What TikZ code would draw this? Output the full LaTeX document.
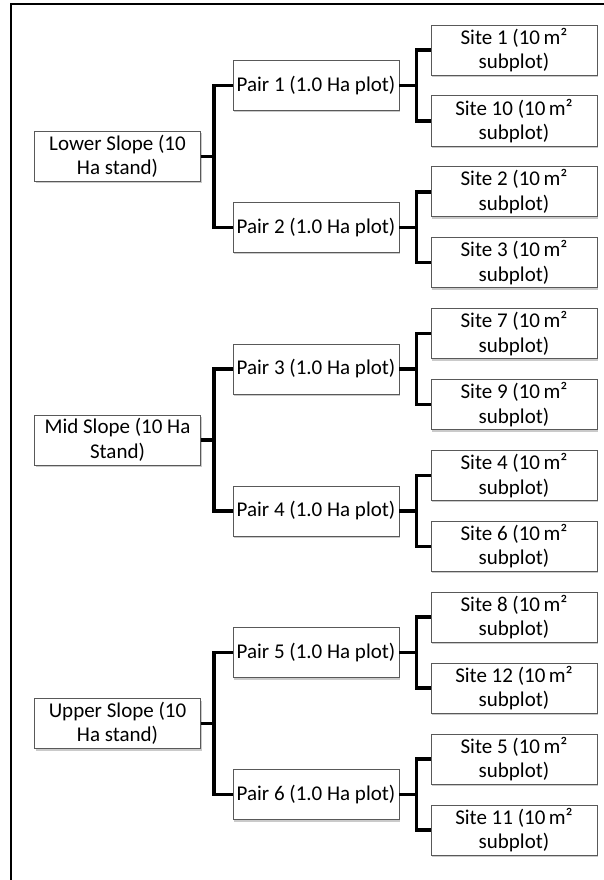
\documentclass[tikz,border=0pt]{standalone}
\usepackage{fontspec}
\setmainfont{Carlito}
\usetikzlibrary{shadows}

\newcommand{\sqm}{10\,m²}

\begin{document}
\begin{tikzpicture}[x=1pt,y=-1pt]
        \tikzset{box/.style={draw=black!65, line width=0.8pt, fill=white,
            minimum width=166pt, minimum height=50pt, inner sep=2pt,
            align=center, font=\fontsize{21}{24.5}\selectfont,
            drop shadow={shadow xshift=1pt, shadow yshift=-2pt, opacity=0.35, fill=black!60}}}
        \tikzset{link/.style={line width=3.5pt}}
        \useasboundingbox (0,0) rectangle (604,880);
        \draw[line width=2pt] (11,880) -- (11,4) -- (604,4);
        % slopes
        \node[box] (low) at (117.5,156.4) {Lower Slope (10\\Ha stand)};
        \node[box] (mid) at (117.5,440) {Mid Slope (10 Ha\\Stand)};
        \node[box] (upp) at (117.5,723.5) {Upper Slope (10\\Ha stand)};
        % pairs
        \node[box] (p1) at (316,85.5) {Pair 1 (1.0 Ha plot)};
        \node[box] (p2) at (316,227.3) {Pair 2 (1.0 Ha plot)};
        \node[box] (p3) at (316,369) {Pair 3 (1.0 Ha plot)};
        \node[box] (p4) at (316,510.9) {Pair 4 (1.0 Ha plot)};
        \node[box] (p5) at (316,652.7) {Pair 5 (1.0 Ha plot)};
        \node[box] (p6) at (316,794.5) {Pair 6 (1.0 Ha plot)};
        % sites
        \node[box] (s1) at (514,50) {Site 1 (\sqm\\subplot)};
        \node[box] (s10) at (514,120.9) {Site 10 (\sqm\\subplot)};
        \node[box] (s2) at (514,191.8) {Site 2 (\sqm\\subplot)};
        \node[box] (s3) at (514,262.7) {Site 3 (\sqm\\subplot)};
        \node[box] (s7) at (514,333.6) {Site 7 (\sqm\\subplot)};
        \node[box] (s9) at (514,404.5) {Site 9 (\sqm\\subplot)};
        \node[box] (s4) at (514,475.4) {Site 4 (\sqm\\subplot)};
        \node[box] (s6) at (514,546.3) {Site 6 (\sqm\\subplot)};
        \node[box] (s8) at (514,617.2) {Site 8 (\sqm\\subplot)};
        \node[box] (s12) at (514,688.1) {Site 12 (\sqm\\subplot)};
        \node[box] (s5) at (514,759) {Site 5 (\sqm\\subplot)};
        \node[box] (s11) at (514,829.9) {Site 11 (\sqm\\subplot)};
        % elbows
        \foreach \a/\b/\c in {low/p1/p2, mid/p3/p4, upp/p5/p6}{
            \draw[link] (\a.east) -- ++(13,0) |- (\b.west);
            \draw[link] (\a.east) -- ++(13,0) |- (\c.west);
        }
        \foreach \a/\b/\c in {p1/s1/s10, p2/s2/s3, p3/s7/s9, p4/s4/s6, p5/s8/s12, p6/s5/s11}{
            \draw[link] (\a.east) -- ++(17,0) |- (\b.west);
            \draw[link] (\a.east) -- ++(17,0) |- (\c.west);
        }
\end{tikzpicture}
\end{document}
